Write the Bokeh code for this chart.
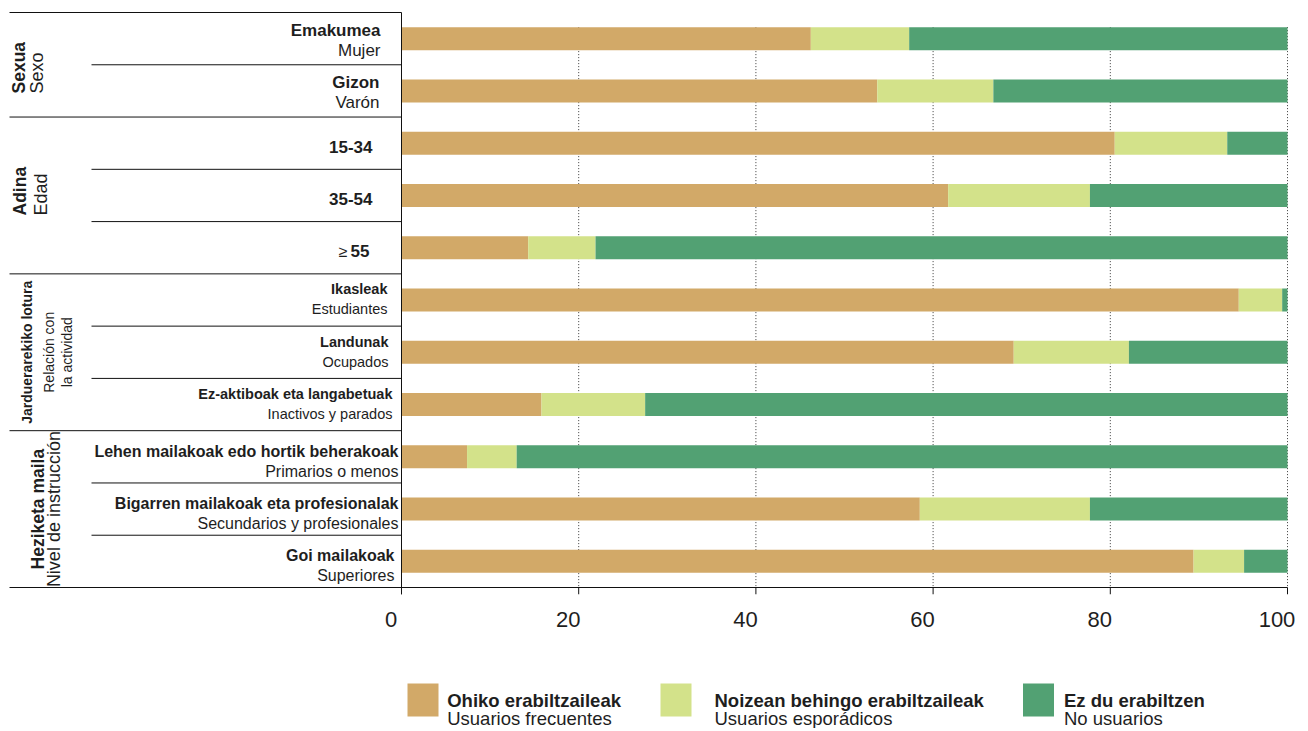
import numpy as np
from bokeh.plotting import figure
from bokeh.models import Range1d, LinearAxis, FixedTicker
from bokeh.layouts import column
from bokeh.embed import file_html
from bokeh.resources import INLINE
from bokeh.core.properties import value

# ---------------- data ----------------
group_names_eu = ["Sexua", "Adina", "Jarduerarekiko lotura", "Heziketa maila"]
group_names_es = ["Sexo", "Edad", "Relación con\nla actividad", "Nivel de instrucción"]
group_sizes = [2, 3, 3, 3]

row_names_eu = ["Emakumea", "Gizon", "15-34", "35-54", "≥ 55",
                "Ikasleak", "Landunak", "Ez-aktiboak eta langabetuak",
                "Lehen mailakoak edo hortik beherakoak",
                "Bigarren mailakoak eta profesionalak", "Goi mailakoak"]
row_names_es = ["Mujer", "Varón", "", "", "",
                "Estudiantes", "Ocupados", "Inactivos y parados",
                "Primarios o menos", "Secundarios y profesionales", "Superiores"]

frequent_users = [46.2, 53.7, 80.5, 61.7, 14.3, 94.5, 69.1, 15.8, 7.4, 58.5, 89.4]
sporadic_users = [11.1, 13.1, 12.7, 16.0, 7.6, 4.9, 13.0, 11.7, 5.6, 19.2, 5.7]
non_users      = [42.7, 33.2, 6.8, 22.3, 78.1, 0.6, 17.9, 72.5, 87.0, 22.3, 4.9]

series_names_eu = ["Ohiko erabiltzaileak", "Noizean behingo erabiltzaileak", "Ez du erabiltzen"]
series_names_es = ["Usuarios frecuentes", "Usuarios esporádicos", "No usuarios"]
series_colors = ["#D2A968", "#D3E28A", "#52A173"]

x_ticks = [0, 20, 40, 60, 80, 100]
grid_ticks = [20, 40, 60, 80, 100]

# ---------------- layout (pixels on the page) ----------------
W = 1300
MAIN_H = 645
LEG_H = 728 - MAIN_H
PAGE = 0
PX0, PX100 = 401.0, 1287.0
PPU = (PX100 - PX0) / 100.0
N = len(row_names_eu)
TOP_LINE = 12.0
BOTTOM_LINE = 587.0
ROWPX = (BOTTOM_LINE - TOP_LINE) / N
FRAME_TOP = 9
TICK_LEN = 7
FRAME_BOTTOM = BOTTOM_LINE + TICK_LEN
FRAME_H = int(FRAME_BOTTOM - FRAME_TOP)
Y_END = -0.5 - (TOP_LINE - FRAME_TOP) / ROWPX
Y_START = N - 0.5 + TICK_LEN / ROWPX
TXT = "#1e1e1e"
FONT = "Liberation Sans"
BASE_K = 0.36   # correction for where the alphabetic baseline lands


def xv(px):
    return (px - PAGE - PX0) / PPU


def yv(py):
    return Y_END + (py - PAGE - FRAME_TOP) / ROWPX


def fs(s):
    return float(s.replace("px", ""))


x_start, x_end = xv(PAGE), xv(PAGE + W)

p = figure(width=W, height=MAIN_H,
           x_range=Range1d(x_start, x_end),
           y_range=Range1d(Y_START, Y_END),
           x_axis_type=None, y_axis_type=None,
           toolbar_location=None, output_backend="svg",
           min_border_left=0, min_border_right=0,
           min_border_top=FRAME_TOP,
           min_border_bottom=MAIN_H - FRAME_TOP - FRAME_H,
           outline_line_color=None)
p.background_fill_color = "white"
p.border_fill_color = "white"

shift = 10.5 / PPU
p.extra_x_ranges = {"lbl": Range1d(x_start + shift, x_end + shift)}

BAR_H = 0.44
# dotted vertical grid lines (between the bars)
p.segment(x0=grid_ticks, y0=[-BAR_H / 2] * len(grid_ticks),
          x1=grid_ticks, y1=[N - 0.5] * len(grid_ticks),
          line_color="#3a3a3a", line_dash="1 2", line_width=1)

# stacked bars
ys = np.arange(N)
vals = np.array([frequent_users, sporadic_users, non_users], dtype=float)
rights = np.cumsum(vals, axis=0)
lefts = rights - vals
for k in range(3):
    p.hbar(y=ys, left=lefts[k], right=rights[k], height=BAR_H,
           fill_color=series_colors[k], line_color=None)

# table lines
bounds = np.cumsum(group_sizes)
group_lines = [-0.5] + [b - 0.5 for b in bounds]
inner_lines = [i + 0.5 for i in range(N - 1) if (i + 1) not in set(bounds)]
p.segment(x0=[xv(9)] * len(group_lines), y0=group_lines,
          x1=[0] * (len(group_lines) - 1) + [100], y1=group_lines,
          line_color="#111111", line_width=1)
p.segment(x0=[xv(91)] * len(inner_lines), y0=inner_lines,
          x1=[0] * len(inner_lines), y1=inner_lines,
          line_color="#111111", line_width=1)
# vertical axis line at 0 and tick marks
p.segment(x0=[0], y0=[-0.5], x1=[0], y1=[Y_START], line_color="#111111", line_width=1)
p.segment(x0=x_ticks, y0=[N - 0.5] * len(x_ticks), x1=x_ticks, y1=[Y_START] * len(x_ticks),
          line_color="#111111", line_width=1)

# tick labels (slightly shifted left as in the original)
ax = LinearAxis(x_range_name="lbl", ticker=FixedTicker(ticks=x_ticks))
ax.axis_line_color = None
ax.major_tick_line_color = None
ax.minor_tick_line_color = None
ax.major_tick_out = 0
ax.major_tick_in = 0
ax.major_label_standoff = 17
ax.major_label_text_font = FONT
ax.major_label_text_font_size = "22px"
ax.major_label_text_color = TXT
p.add_layout(ax, "below")

# row labels
row_right_px = [380, 379, 372, 372, 369, 387, 388, 392, 398, 398, 394]
group_row_style = [
    # size, bold baseline dy, normal baseline dy, single baseline dy (from row centre)
    ("17px", -2.5, 17.5, 9.5),
    ("17px", -2.5, 17.5, 9.5),
    ("14.5px", -5.3, 14.7, 9.5),
    ("16px", 0.0, 20.0, 9.5),
]
start = 0
for g, size in enumerate(group_sizes):
    fsize, bdy, ndy, sdy = group_row_style[g]
    corr = BASE_K * fs(fsize)
    idx = list(range(start, start + size))
    start += size
    bx, by, bt, nx, ny, nt = [], [], [], [], [], []
    sx, sy, st = [], [], []
    for i in idx:
        two = row_names_es[i] != ""
        name = row_names_eu[i]
        yb = i + ((bdy if two else sdy) - corr) / ROWPX
        if name.startswith("≥ "):
            # the "≥" sign is set in normal weight in front of the bold number
            rest = name[2:]
            bx.append(xv(row_right_px[i]))
            by.append(yb)
            bt.append(rest)
            sx.append(xv(row_right_px[i] - 0.556 * fs(fsize) * len(rest) - 3))
            sy.append(yb)
            st.append("≥")
        else:
            bx.append(xv(row_right_px[i]))
            by.append(yb)
            bt.append(name)
        if two:
            nx.append(xv(row_right_px[i]))
            ny.append(i + (ndy - corr) / ROWPX)
            nt.append(row_names_es[i])
    p.text(x=bx, y=by, text=bt, text_align="right", text_baseline="alphabetic",
           text_font=value(FONT), text_font_size=value(fsize),
           text_font_style="bold", text_color=TXT)
    if st:
        p.text(x=sx, y=sy, text=st, text_align="right", text_baseline="alphabetic",
               text_font=value(FONT), text_font_size=value("16px"),
               text_font_style="normal", text_color=TXT)
    if nt:
        p.text(x=nx, y=ny, text=nt, text_align="right", text_baseline="alphabetic",
               text_font=value(FONT), text_font_size=value(fsize),
               text_font_style="normal", text_color=TXT)

# rotated group labels
group_label_style = [
    # bold size, normal size, baseline x of bold, baseline x of first normal line,
    # anchor page y (None = centred), align
    ("17.5px", "18px", 25.0, 43.3, 93.0, "left"),
    ("17.5px", "18px", 26.0, 46.7, 215.0, "left"),
    ("14px", "14px", 31.7, 53.3, None, "center"),
    ("17.5px", "18px", 43.3, 60.0, None, "center"),
]
start = 0
for g, size in enumerate(group_sizes):
    bsize, nsize, bxp, nxp, ay, align = group_label_style[g]
    center = start + (size - 1) / 2.0
    start += size
    yanchor = center if ay is None else yv(ay)
    p.text(x=[xv(bxp - BASE_K * fs(bsize))], y=[yanchor], text=[group_names_eu[g]],
           angle=np.pi / 2, text_align=align, text_baseline="alphabetic",
           text_font=value(FONT), text_font_size=value(bsize),
           text_font_style="bold", text_color=TXT)
    lines = group_names_es[g].split("\n")
    p.text(x=[xv(nxp + 18.4 * j - BASE_K * fs(nsize)) for j in range(len(lines))],
           y=[yanchor] * len(lines), text=lines, angle=np.pi / 2,
           text_align=align, text_baseline="alphabetic",
           text_font=value(FONT), text_font_size=value(nsize),
           text_font_style="normal", text_color=TXT)

# ---------------- legend figure (page coordinates) ----------------
top = PAGE + MAIN_H
lg = figure(width=W, height=LEG_H,
            x_range=Range1d(PAGE, PAGE + W), y_range=Range1d(top + LEG_H, top),
            x_axis_type=None, y_axis_type=None,
            toolbar_location=None, output_backend="svg",
            min_border=0, outline_line_color=None)
sq_x = [407.0, 660.0, 1022.5]
txt_x = [446.7, 714.0, 1063.5]
LEG_FS = "18.5px"
lcorr = BASE_K * fs(LEG_FS)
lg.quad(left=sq_x, right=[x + 31 for x in sq_x], top=[683] * 3, bottom=[716] * 3,
        fill_color=series_colors, line_color=None)
lg.text(x=txt_x, y=[707 - lcorr] * 3, text=series_names_eu, text_align="left",
        text_baseline="alphabetic", text_font=value(FONT), text_font_size=value(LEG_FS),
        text_font_style="bold", text_color=TXT)
lg.text(x=txt_x, y=[725 - lcorr] * 3, text=series_names_es, text_align="left",
        text_baseline="alphabetic", text_font=value(FONT), text_font_size=value(LEG_FS),
        text_font_style="normal", text_color=TXT)

layout = column(p, lg, spacing=0)
open("out.html", "w").write(file_html(layout, INLINE))
